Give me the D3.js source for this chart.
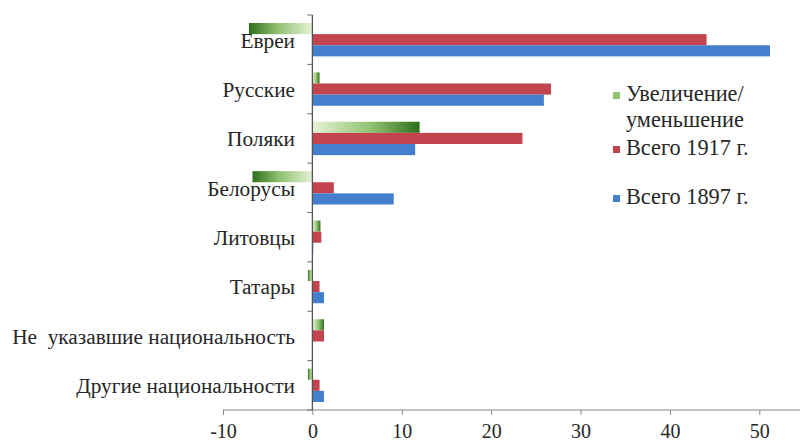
<!DOCTYPE html>
<html>
<head>
<meta charset="utf-8">
<script src="https://cdn.jsdelivr.net/npm/d3@7"></script>
<style>
  html, body { margin: 0; padding: 0; background: #fff; }
  svg { display: block; }
</style>
</head>
<body>
<svg id="chart" width="800" height="441"></svg>
<script>
// ---- data (percent) ----
const categories = ["Евреи", "Русские", "Поляки", "Белорусы", "Литовцы", "Татары", "Не  указавшие национальность", "Другие национальности"];
const total1897 = [51.2, 25.9, 11.5, 9.1, 0.1, 1.3, 0.0, 1.3];
const total1917 = [44.1, 26.7, 23.5, 2.4, 1.0, 0.8, 1.3, 0.8];
const change    = [-7.1, 0.8, 12.0, -6.7, 0.9, -0.5, 1.3, -0.5];
const seriesNames = ["Увеличение/ уменьшение", "Всего 1917 г.", "Всего 1897 г."];
const legendLines = [["Увеличение/", "уменьшение"], ["Всего 1917 г."], ["Всего 1897 г."]];
const xTicks = [-10, 0, 10, 20, 30, 40, 50];

const FONT = '"Liberation Serif"';
const TXT = "#262626";
const svg = d3.select("#chart");
const RED = "#C2444E", BLUE = "#437FCC";

const x = d3.scaleLinear().domain([-10, 55]).range([223, 804]);
const y = d3.scaleBand().domain(categories).range([15, 410]).padding(0);
const sub = d3.scaleBand().domain([0, 1, 2]).range([8, y.bandwidth() - 8]).padding(0);

// gradients for change series
const defs = svg.append("defs");
function grad(id, x1, x2) {
  const g = defs.append("linearGradient").attr("id", id).attr("x1", x1).attr("x2", x2).attr("y1", 0).attr("y2", 0);
  g.append("stop").attr("offset", 0).attr("stop-color", "#e6f2d6");
  g.append("stop").attr("offset", 0.55).attr("stop-color", "#8fc170");
  g.append("stop").attr("offset", 1).attr("stop-color", "#2f6f1c");
}
grad("gPos", 0, 1);
grad("gNeg", 1, 0);

const rows = categories.map((c, i) => ({ c, vals: [change[i], total1917[i], total1897[i]] }));
const fills = [null, RED, BLUE];

const bars = svg.append("g");
rows.forEach(r => {
  r.vals.forEach((v, k) => {
    if (v === 0) return;
    bars.append("rect")
      .attr("x", x(Math.min(0, v)))
      .attr("width", Math.abs(x(v) - x(0)))
      .attr("y", y(r.c) + sub(k))
      .attr("height", sub.bandwidth())
      .attr("fill", k === 0 ? (v >= 0 ? "url(#gPos)" : "url(#gNeg)") : fills[k]);
  });
});

// x axis
const xAxis = svg.append("g").attr("transform", "translate(0,410)")
  .call(d3.axisBottom(x).tickValues(xTicks).tickSize(5).tickPadding(9).tickFormat(d => String(d)));
xAxis.attr("font-family", null);
xAxis.select(".domain").attr("stroke", "#8a8a8a").attr("d", "M223,0H800");
xAxis.selectAll(".tick line").attr("stroke", "#8a8a8a");
xAxis.selectAll(".tick text").attr("font-size", 20).attr("fill", TXT).style("font-family", FONT);

// y axis line + boundary ticks
const yg = svg.append("g");
yg.append("line").attr("x1", x(0)).attr("x2", x(0)).attr("y1", y.range()[0]).attr("y2", y.range()[1])
  .attr("stroke", "#555").attr("stroke-width", 1.3);
const bounds = categories.map(c => y(c)).concat([y.range()[1]]);
yg.selectAll("line.bt").data(bounds).enter().append("line").attr("class", "bt")
  .attr("x1", x(0) - 5).attr("x2", x(0)).attr("y1", d => d).attr("y2", d => d)
  .attr("stroke", "#666");
yg.selectAll("text").data(categories).enter().append("text")
  .attr("x", 295).attr("y", d => y(d) + y.bandwidth() / 2 + 3)
  .attr("text-anchor", "end").attr("dominant-baseline", "middle")
  .attr("font-size", 21.3).attr("fill", TXT)
  .style("font-family", FONT).style("white-space", "pre")
  .text(d => d);

// legend
const legendColors = ["#8fc170", RED, BLUE];
const legendY = [96, 150, 199];
const lg = svg.append("g");
legendLines.forEach((lines, i) => {
  lg.append("rect").attr("x", 613).attr("y", legendY[i] - 4).attr("width", 7).attr("height", 7)
    .attr("fill", legendColors[i]);
  lines.forEach((t, j) => {
    lg.append("text").attr("x", 626).attr("y", legendY[i] + j * 26)
      .attr("dominant-baseline", "middle").attr("font-size", 22.3).attr("fill", TXT)
      .style("font-family", FONT).text(t);
  });
});
</script>
</body>
</html>
